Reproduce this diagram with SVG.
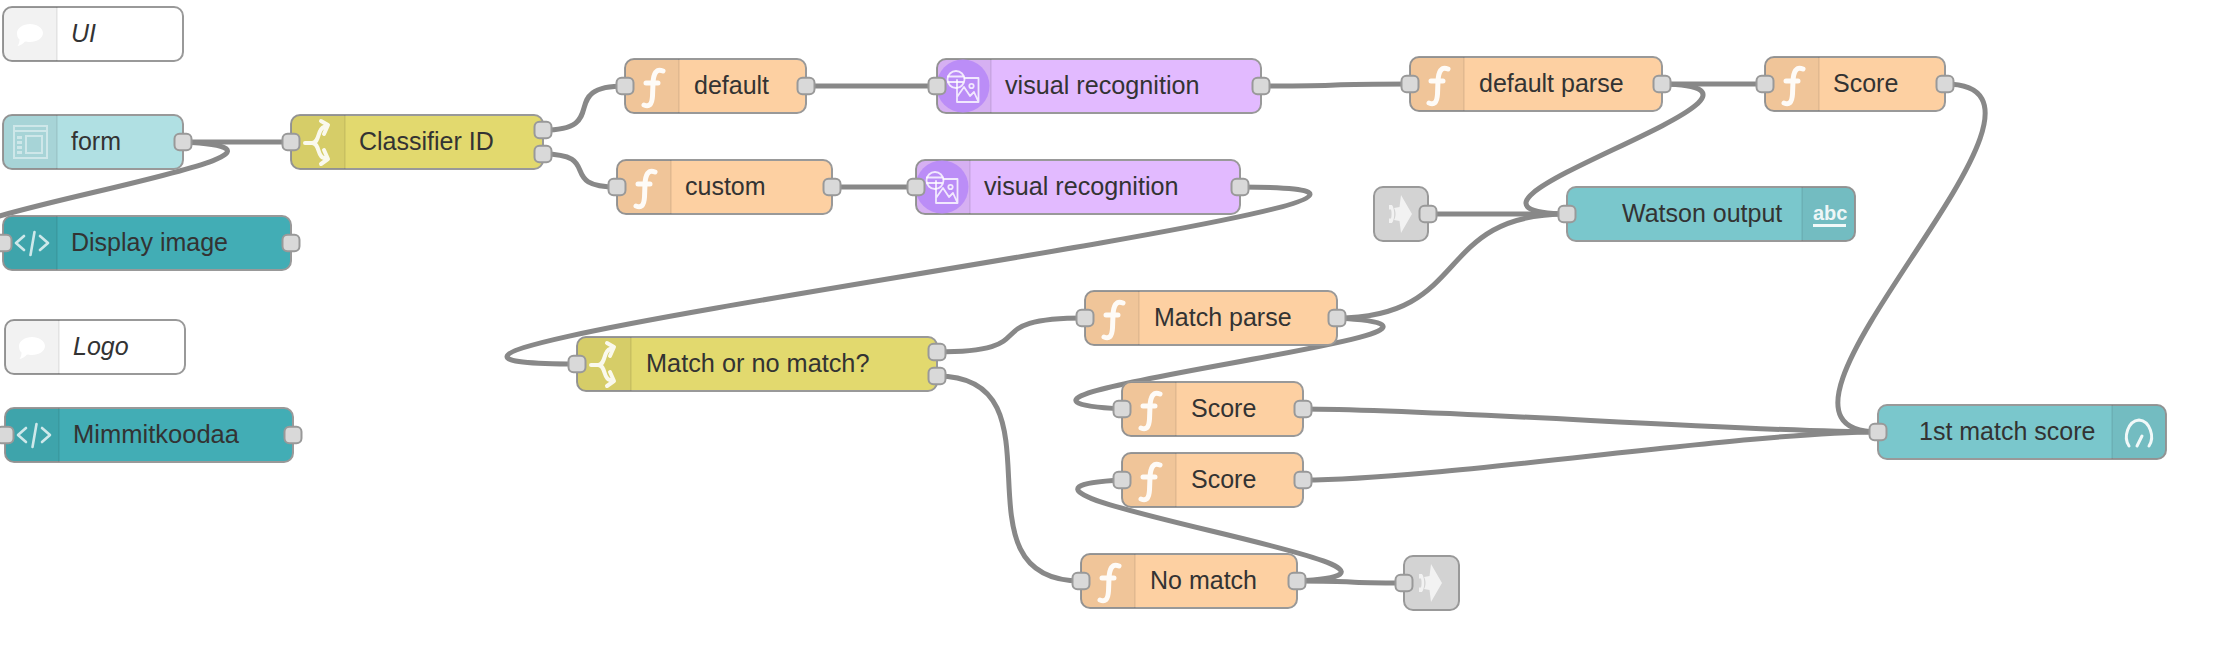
<svg xmlns="http://www.w3.org/2000/svg" xmlns:xlink="http://www.w3.org/1999/xlink" width="2216" height="647" viewBox="0 0 2216 647">
<style>
text{font-family:"Liberation Sans",Arial,sans-serif;font-size:25px;fill:#333}
.i{font-style:italic}
.b{stroke:#999;stroke-width:2}
.w{fill:none;stroke:#888;stroke-width:5}
.f{fill:#fdd0a2}.y{fill:#e2d96e}.t{fill:#42adb5}.l{fill:#b0e0e3}.u{fill:#7ac7cc}.v{fill:#e2baff}.c{fill:#fff}.g{fill:#d3d3d3}
.ic{fill:none;stroke:#fff;stroke-linecap:round;stroke-linejoin:round}
</style>
<defs>
<rect id="p" x="-8.500" y="-8.300" width="17" height="16.600" rx="5" fill="#d9d9d9" stroke="#999" stroke-width="2"/>
<g id="ia"><path d="M9 0H54V54H9Q0 54 0 45V9Q0 0 9 0Z" fill="#000" fill-opacity=".05"/><path d="M54 0V54" stroke="#000" stroke-opacity=".1" stroke-width="1.200"/></g>
<path id="fn" class="ic" stroke-width="5" stroke-opacity=".92" d="M38 12C31 9 28.500 15 28 24L27.500 37C27 46 24 48 19 46M21 24H33"/>
<path id="sw" class="ic" stroke-width="4" stroke-opacity=".88" d="M14 28H21C29 28 26 14 33 12M30 6L37 10L33 19M21 28C29 28 26 42 33 43M33 35L37 44L30 49"/>
<path id="cd" class="ic" stroke-width="2.600" stroke-opacity=".75" d="M21 20L13 27L21 34M37 20L45 27L37 34M31.500 16L27.500 39"/>
<path id="bb" fill="#fff" d="M27 17C34 17 40 21 40 26S34 35 27 35C25 35 23 34.800 22 34.500C20 37 17 38.500 14.500 39C16 37 16.500 35 16.500 32.500C14.500 31 14 29 14 26C14 21 20 17 27 17Z"/>
<g id="vr">
<circle cx="26" cy="27" r="26.500" fill="#bb8df7"/>
<g class="ic" stroke-width="1.800" stroke-opacity=".8">
<path d="M20 21V43H41.500V19H27.500M20 38L27 28L33 37L37 33L41.500 43"/>
<circle cx="34.500" cy="27" r="2.200"/>
<circle cx="19" cy="20.500" r="8.500"/>
<path d="M11 17.500H26M11 23H26"/>
</g></g>
<g id="lk" fill="#fff" fill-opacity=".7"><path d="M27 8L38 27L27 46L25.500 34L20 33C22 30 22 24 20 21L25.500 20Z"/><path d="M15 18H18C21 22 21 32 18 36H15V31.500H17C17.800 29 17.800 25 17 22.500H15Z"/></g>
</defs>
<g id="connectors">
<path class="w" d="M183 142H291"/>
<path class="w" d="M183 142C390 152 -204 233 3 243"/>
<path class="w" d="M543 130C613 130 555 86 625 86"/>
<path class="w" d="M543 154C604 154 556 187 617 187"/>
<path class="w" d="M806 86H937"/>
<path class="w" d="M1261 86C1373 86 1298 84 1410 84"/>
<path class="w" d="M832 187H916"/>
<path class="w" d="M1240 187C1640 187 177 364 577 364"/>
<path class="w" d="M937 352C1050 352 971 318 1085 318"/>
<path class="w" d="M937 376C1071 376 946 581 1081 581"/>
<path class="w" d="M1337 318C1472 318 1432 214 1567 214"/>
<path class="w" d="M1337 318C1558 330 901 397 1122 409"/>
<path class="w" d="M1662 84C1835 87 1394 211 1567 214"/>
<path class="w" d="M1662 84H1765"/>
<path class="w" d="M1945 84C2107 84 1716 432 1878 432"/>
<path class="w" d="M1303 409C1438 409 1743 432 1878 432"/>
<path class="w" d="M1303 480C1438 480 1743 432 1878 432"/>
<path class="w" d="M1297 581C1502 571 917 490 1122 480"/>
<path class="w" d="M1297 581C1377 581 1324 583 1404 583"/>
<path class="w" d="M1428 214H1567"/>
</g>
<g id="n-ui" transform="translate(3,7)"><rect class="c b" width="180" height="54" rx="9"/><use href="#ia"/><use href="#bb"/><text class="i" x="68" y="35">UI</text></g>
<g id="n-form" transform="translate(3,115)"><rect class="l b" width="180" height="54" rx="9"/><use href="#ia"/>
<g fill="#fff" fill-opacity=".45" stroke="none"><path d="M10 10H45V44H10ZM12 12V15H43V12ZM12 17V42H43V17ZM14 21H19V24H14ZM14 26H19V29H14ZM14 31H19V34H14ZM14 36H19V39H14ZM22 20H40V39H22ZM24 22V37H38V22Z" fill-rule="evenodd"/></g>
<text x="68" y="35">form</text><use href="#p" x="180" y="27"/></g>
<g id="n-display" transform="translate(3,216)"><rect class="t b" width="288" height="54" rx="9"/><use href="#ia"/><use href="#cd"/><text x="68" y="35">Display image</text><use href="#p" x="0" y="27"/><use href="#p" x="288" y="27"/></g>
<g id="n-logo" transform="translate(5,320)"><rect class="c b" width="180" height="54" rx="9"/><use href="#ia"/><use href="#bb"/><text class="i" x="68" y="35">Logo</text></g>
<g id="n-mimmit" transform="translate(5,408)"><rect class="t b" width="288" height="54" rx="9"/><use href="#ia"/><use href="#cd"/><text x="68" y="35" textLength="166" lengthAdjust="spacingAndGlyphs">Mimmitkoodaa</text><use href="#p" x="0" y="27"/><use href="#p" x="288" y="27"/></g>
<g id="n-classifier" transform="translate(291,115)"><rect class="y b" width="252" height="54" rx="9"/><use href="#ia"/><use href="#sw"/><text x="68" y="35">Classifier ID</text><use href="#p" x="0" y="27"/><use href="#p" x="252" y="15"/><use href="#p" x="252" y="39"/></g>
<g id="n-default" transform="translate(625,59)"><rect class="f b" width="181" height="54" rx="9"/><use href="#ia"/><use href="#fn"/><text x="69" y="35">default</text><use href="#p" x="0" y="27"/><use href="#p" x="181" y="27"/></g>
<g id="n-custom" transform="translate(617,160)"><rect class="f b" width="215" height="54" rx="9"/><use href="#ia"/><use href="#fn"/><text x="68" y="35">custom</text><use href="#p" x="0" y="27"/><use href="#p" x="215" y="27"/></g>
<g id="n-vr1" transform="translate(937,59)"><rect class="v b" width="324" height="54" rx="9"/><use href="#ia"/><use href="#vr"/><text x="68" y="35" textLength="194.500" lengthAdjust="spacingAndGlyphs">visual recognition</text><use href="#p" x="0" y="27"/><use href="#p" x="324" y="27"/></g>
<g id="n-vr2" transform="translate(916,160)"><rect class="v b" width="324" height="54" rx="9"/><use href="#ia"/><use href="#vr"/><text x="68" y="35" textLength="194.500" lengthAdjust="spacingAndGlyphs">visual recognition</text><use href="#p" x="0" y="27"/><use href="#p" x="324" y="27"/></g>
<g id="n-defparse" transform="translate(1410,57)"><rect class="f b" width="252" height="54" rx="9"/><use href="#ia"/><use href="#fn"/><text x="69" y="35">default parse</text><use href="#p" x="0" y="27"/><use href="#p" x="252" y="27"/></g>
<g id="n-score1" transform="translate(1765,57)"><rect class="f b" width="180" height="54" rx="9"/><use href="#ia"/><use href="#fn"/><text x="68" y="35">Score</text><use href="#p" x="0" y="27"/><use href="#p" x="180" y="27"/></g>
<g id="n-linkin" transform="translate(1374,187)"><rect class="g b" width="54" height="54" rx="9"/><use href="#lk"/><use href="#p" x="54" y="27"/></g>
<g id="n-watson" transform="translate(1567,187)"><rect class="u b" width="288" height="54" rx="9"/><path d="M235 0H279Q288 0 288 9V45Q288 54 279 54H235Z" fill="#000" fill-opacity=".05"/><path d="M235 0V54" stroke="#000" stroke-opacity=".1" stroke-width="1.200"/><text x="55" y="35">Watson output</text><text x="246" y="33" style="font-size:20px;font-weight:700;fill:#fff;fill-opacity:.9">abc</text><rect x="246" y="37" width="33" height="3" fill="#fff" fill-opacity=".9"/><use href="#p" x="0" y="27"/></g>
<g id="n-match" transform="translate(577,337)"><rect class="y b" width="360" height="54" rx="9"/><use href="#ia"/><use href="#sw"/><text x="69" y="35" textLength="223.500" lengthAdjust="spacingAndGlyphs">Match or no match?</text><use href="#p" x="0" y="27"/><use href="#p" x="360" y="15"/><use href="#p" x="360" y="39"/></g>
<g id="n-matchparse" transform="translate(1085,291)"><rect class="f b" width="252" height="54" rx="9"/><use href="#ia"/><use href="#fn"/><text x="69" y="35">Match parse</text><use href="#p" x="0" y="27"/><use href="#p" x="252" y="27"/></g>
<g id="n-score2" transform="translate(1122,382)"><rect class="f b" width="181" height="54" rx="9"/><use href="#ia"/><use href="#fn"/><text x="69" y="35">Score</text><use href="#p" x="0" y="27"/><use href="#p" x="181" y="27"/></g>
<g id="n-score3" transform="translate(1122,453)"><rect class="f b" width="181" height="54" rx="9"/><use href="#ia"/><use href="#fn"/><text x="69" y="35">Score</text><use href="#p" x="0" y="27"/><use href="#p" x="181" y="27"/></g>
<g id="n-nomatch" transform="translate(1081,554)"><rect class="f b" width="216" height="54" rx="9"/><use href="#ia"/><use href="#fn"/><text x="69" y="35">No match</text><use href="#p" x="0" y="27"/><use href="#p" x="216" y="27"/></g>
<g id="n-linkout" transform="translate(1404,556)"><rect class="g b" width="55" height="54" rx="9"/><use href="#lk"/><use href="#p" x="0" y="27"/></g>
<g id="n-gauge" transform="translate(1878,405)"><rect class="u b" width="288" height="54" rx="9"/><path d="M234 0H279Q288 0 288 9V45Q288 54 279 54H234Z" fill="#000" fill-opacity=".05"/><path d="M234 0V54" stroke="#000" stroke-opacity=".1" stroke-width="1.200"/><text x="41" y="35">1st match score</text><path class="ic" stroke-width="3" stroke-opacity=".9" d="M251 41C245 32 250 16 261 15C272 16 277 32 271 41M259 41L264 31"/><use href="#p" x="0" y="27"/></g>
</svg>
